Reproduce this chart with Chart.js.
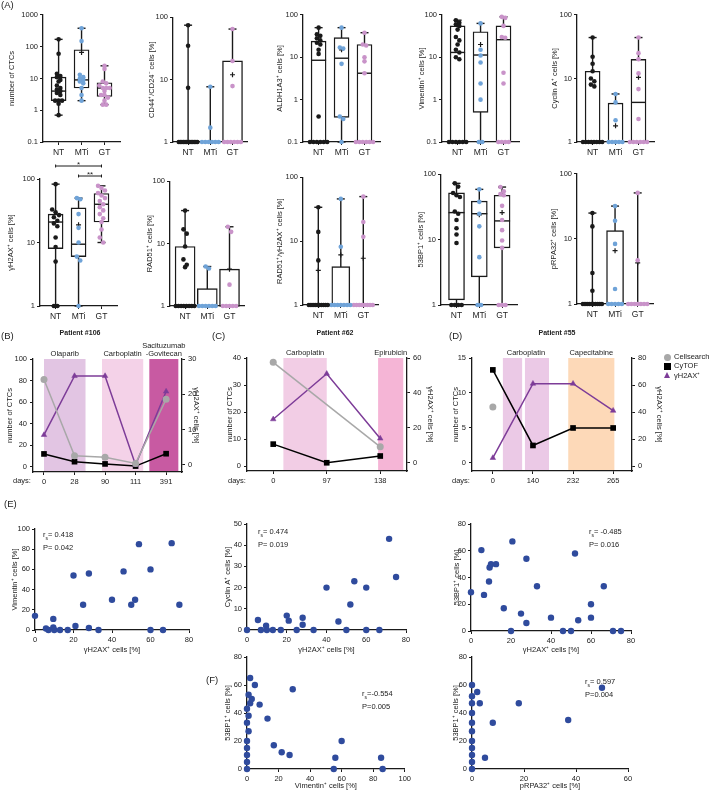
<!DOCTYPE html>
<html><head><meta charset="utf-8">
<script src="https://cdn.jsdelivr.net/npm/chart.js@4.4.1/dist/chart.umd.min.js"></script>
<style>
body{margin:0;background:#fff;width:709px;height:802px;position:relative;overflow:hidden;font-family:"Liberation Sans",Arial,sans-serif;color:#222;}
canvas{position:absolute;}
.t{position:absolute;white-space:nowrap;font-size:7.5px;line-height:10px;color:#222;}
.pl{font-size:9.5px;}
.pt{font-size:7px;font-weight:bold;transform:translateX(-50%);}
.sym{position:absolute;}
</style></head><body>
<script>
// ---------------- DATA ----------------
const groups = ['NT','MTi','GT'];
const logTicks3 = [1,10,100];
const logTicks4 = [0.1,1,10,100];
const logTicks5 = [0.1,1,10,100,1000];

// box stats per group: [min, q1, median, q3, max]
const ctcStats = [[0.7,2,4,11,170],[2,5,9,80,380],[1.5,2.7,5,7.3,25]];
const ctcPts = [[170,60,14,12,11,9,8,6,5,4.5,4,3.5,3,2,2,2,1.6,0.7],[380,150,13,11,10,9,8,7,5,3,2],[25,20,8,7,6,5,5,5,4,3,3,2.5,2,1.5,1.5]];
const ctcMean = [null,66,null];

const cd44Stats = [[1,1,1,1,75],[1,1,1,1,7.7],[1,1,1,20,65]];
const cd44Pts = [[75,35,7.4,1,1,1,1,1,1,1,1,1,1,1,1,1],[7.7,1.7,1,1,1,1,1,1],[65,20,7.9,1,1,1,1,1,1]];
const cd44Mean = [null,null,12];

const aldhStats = [[0.1,0.1,8.5,24,50],[0.1,0.38,9.5,29,50],[0.1,0.1,4.2,20,38]];
const aldhPts = [[50,35,32,28,25,22,20,15,12,0.4,0.1,0.1,0.1,0.1,0.1,0.1],[50,17,16,7,0.4,0.35,0.1],[38,20,19,10,8,4.2,0.1,0.1,0.1,0.1,0.1,0.1]];
const aldhMean = [null,15,null];

const vimStats = [[0.1,0.1,13,55,75],[0.1,0.5,11.3,40,63],[0.1,0.1,26,55,90]];
const vimPts = [[75,65,60,55,45,30,25,20,15,13,10,9,0.1,0.1,0.1,0.1,0.1,0.1],[63,15,11,7.5,2.4,1,0.1,0.1],[90,85,55,30,29,4.3,2.4,0.1,0.1,0.1,0.1]];
const vimMean = [null,20,null];

const cycStats = [[1,1,1,13,44],[1,1,1,4.1,5.7],[1,1,4.2,20,44]];
const cycPts = [[44,22,17,13,10,9,8,7.5,1,1,1,1,1,1,1,1],[5.7,4.2,2.2,1,1,1,1,1],[44,25,20,12,6.8,2.3,1,1,1,1,1,1]];
const cycMean = [null,1.8,10.4];

const h2axStats = [[1,8,21,28,83],[1,6,9.4,35,50],[10,21,40,59,78]];
const h2axPts = [[83,33,30,27,25,22,20,18,12,8.5,5,1,1],[50,48,28,17,10,6,5.2,1],[78,72,66,60,55,50,45,40,36,32,28,24,21,16,12,10]];
const h2axMean = [null,19,null];
const sigPairs = [[0,2,'*'],[1,2,'**']];

const radStats = [[1,1,1,9,34],[1,1,1,1.9,4.3],[1,1,1,3.9,18.7]];
const radPts = [[34,17,14.5,9,5.6,4.6,4.2,1,1,1,1,1,1,1,1],[4.3,4,1,1,1,1,1,1],[18.7,15.5,2.2,1,1,1,1,1]];
const radMean = [null,null,3.9];

const rhStats = [[1,1,1,1,34],[1,1,1,4,46],[1,1,1,1,50]];
const rhPts = [[34,14,5,1,1,1,1,1,1,1,1,1,1],[46,8.2,1,1,1,1,1,1,1],[50,20,11.7,1,1,1,1,1,1,1,1]];
const rhMean = [3.5,6.1,5.4];

const bpStats = [[1,1.2,26,52,73],[1,2.7,25,39,59],[1,7.5,19.4,48,64]];
const bpPts = [[73,65,52,48,45,27,25,20,15,12,8.9,1,1,1,1],[59,38,25,16,5.4,1,1],[64,55,50,48,33,20,14,9.7,7.5,1,1,1]];
const bpMean = [null,24,26];

const rpaStats = [[1,1,1,1,25],[1,1,1,13.4,32],[1,1,1,1,51]];
const rpaPts = [[25,15.6,3,1.6,1,1,1,1,1,1,1,1,1,1],[32,19,8.4,1.7,1,1,1,1,1],[51,4.7,1,1,1,1,1,1,1]];
const rpaMean = [null,6.6,4.3];

// patient time courses
const daysB = ['0','28','90','111','391'];
const cellsearchB = [81,10,8.7,3,62.6];
const cytofB = [11.8,4.6,2.5,0.5,12];
const h2axB = [8.5,25.2,25.2,0,20.8];
const drugsB = ['Olaparib','Carboplatin','Sacituzumab|-Govitecan'];

const daysC = ['0','97','138'];
const cellsearchC = [38.4,null,7.1];
const cytofC = [8.1,1.2,3.7];
const h2axC = [25,51,14];
const drugsC = ['Carboplatin','Epirubicin'];

const daysD = ['0','140','232','265'];
const cellsearchD = [8,null,null,null];
const cytofD = [13.3,2.5,5,5];
const h2axD = [6,61,61,41];
const drugsD = ['Carboplatin','','Capecitabine'];

const leftTicksB = [0,20,40,60,80,100], rightTicksB = [0,10,20,30];
const leftTicksC = [0,10,20,30,40], rightTicksC = [0,20,40,60];
const leftTicksD = [0,5,10,15], rightTicksD = [0,20,40,60,80];

// correlations
const e1x = [0,5.7,7,9.5,9.5,10,13,17,20,21,25,28,28,33,40,46,50,52,54,60,60,66.5,71,75];
const e1y = [14,1.5,0,11,2.5,0,0,0,54,4,25,56,2,0,30,58,25,30,85,60,0,0,86,25];
const e2x = [0,5.5,7,9.6,10,13,17,20,21,25,28,28,33.5,40,46,50,52,54,60,60,66.6,71.5,75];
const e2y = [0,4.7,0,2,0,0,0,6.8,4.4,0,5.8,2.5,0,20,4,0,12,23,20,0,0,43,25];
const e3x = [0,5.2,6.5,9,9.3,10,12.5,16.4,20,20.7,25,27.7,27.7,33,40,46,50,52,53.6,60,60,66.4,71,75];
const e3y = [29,60.5,27,37,47.5,50,50,17,0,67,13,54,6,33.5,10,0,0,58,8,20,10,33.5,0,0];
const f1x = [0,0,0,0,0,1,0,1,0,2,3,1,5,2,8,13,17,22,27,29,55,56,60,85,86];
const f1y = [0,5,10,15,20,27,33,38,43,47,50,53,60,65,46,36,17,12,10,57,0,8,20,8,0];
const f2x = [0,0,0,0,0,0,0,0,0,0,0,2,3,5,8,18,37,50];
const f2y = [0,5,10,15,20,27,33,40,47,52,60,55,47,8,33,47,35,58];
const xTicks80 = [0,20,40,60,80], xTicks100 = [0,20,40,60,80,100], xTicks60 = [0,20,40,60];
const yTicks100 = [0,20,40,60,80,100], yTicks50 = [0,10,20,30,40,50], yTicks80 = [0,20,40,60,80];

// ---------------- STYLE / HELPERS ----------------
Chart.defaults.font.family = "'Liberation Sans', Arial, sans-serif";
Chart.defaults.font.size = 7.5;
Chart.defaults.color = '#222';
const INK = '#1a1a1a';
const GCOL = ['#1a1a1a','#6fa3d8','#c993c9'];
const FS = 7.5, LH = FS*1.2;

function makeCanvas(area, m){
  const cv = document.createElement('canvas');
  const left = area[0]-m.l, top = area[1]-m.t;
  const right = area[2]+(m.r||0)+(m.pr||0), bottom = area[3]+m.b;
  cv.width = Math.round(right-left); cv.height = Math.round(bottom-top);
  cv.style.left = left+'px'; cv.style.top = top+'px';
  document.body.appendChild(cv);
  return cv;
}
function yAxis(o){
  return {
    type:o.type||'linear', position:o.position||'left', min:o.min, max:o.max,
    afterBuildTicks:s=>{s.ticks=o.ticks.map(v=>({value:v}));},
    afterFit:s=>{s.width=o.W;},
    ticks:{callback:v=>String(v), font:{size:FS}, padding:o.tpad||2, color:'#222', autoSkip:false, maxRotation:0},
    grid:{display:true, drawOnChartArea:false, drawTicks:true, tickLength:3, color:INK, lineWidth:1},
    border:{display:true, color:INK, width:1.3},
    title:{display:!!o.title, text:o.title, font:{size:FS}, color:'#222', padding:{top:Math.max(0,o.W-o.off-LH/2), bottom:0}}
  };
}
function xAxis(o){
  return {
    type:'linear', position:'bottom', min:o.min, max:o.max, offset:false,
    afterBuildTicks:s=>{s.ticks=o.ticks.map(v=>({value:v}));},
    afterFit:s=>{s.height=o.H;},
    ticks:{callback:o.label||(v=>String(v)), font:{size:o.fs||FS}, padding:o.tpad||2, color:'#222', autoSkip:false, maxRotation:0},
    grid:{display:true, drawOnChartArea:false, drawTicks:true, tickLength:3, color:INK, lineWidth:1, offset:false},
    border:{display:true, color:INK, width:1.3},
    title:{display:!!o.title, text:o.title, font:{size:FS}, color:'#222', padding:{top:0,bottom:1}}
  };
}
const baseOpts = {responsive:false, animation:false, devicePixelRatio:1, events:[],
  plugins:{legend:{display:false}, tooltip:{enabled:false}}};

function spread(vals, log){
  const keys = vals.map(v=>log?Math.log10(v):v);
  const used = vals.map(()=>false), off = vals.map(()=>0);
  for(let i=0;i<vals.length;i++){
    if(used[i]) continue;
    const cl=[i]; used[i]=true;
    for(let j=i+1;j<vals.length;j++) if(!used[j] && Math.abs(keys[j]-keys[i])<0.09){cl.push(j);used[j]=true;}
    const n=cl.length;
    if(n>1){const w=Math.min(0.15*(n-1)/2,0.42); cl.forEach((k,idx)=>{off[k]=-w+2*w*idx/(n-1);});}
  }
  return off;
}

// ---------------- BOX PLOTS ----------------
const BOXES = [
  {stats:ctcStats, pts:ctcPts, mean:ctcMean, min:0.1, max:1000, ticks:logTicks5, title:'number of CTCs', area:[43,14,127,142], off:31, bw:15},
  {stats:cd44Stats, pts:cd44Pts, mean:cd44Mean, min:1, max:100, ticks:logTicks3, title:'CD44\u207A/CD24\u207B cells [%]', area:[173,14,257,142], off:21, bw:20},
  {stats:aldhStats, pts:aldhPts, mean:aldhMean, min:0.1, max:100, ticks:logTicks4, title:'ALDH1A3\u207A cells [%]', area:[303,14,387,142], off:23, bw:15},
  {stats:vimStats, pts:vimPts, mean:vimMean, min:0.1, max:100, ticks:logTicks4, title:'Vimentin\u207A cells [%]', area:[442,14,526,142], off:20, bw:15},
  {stats:cycStats, pts:cycPts, mean:cycMean, min:1, max:100, ticks:logTicks3, title:'Cyclin A\u207A cells [%]', area:[577,14,661,142], off:22, bw:15},
  {stats:h2axStats, pts:h2axPts, mean:h2axMean, min:1, max:100, ticks:logTicks3, title:'\u03B3H2AX\u207A cells [%]', area:[40,179,124,306], off:29, bw:15, sig:sigPairs},
  {stats:radStats, pts:radPts, mean:radMean, min:1, max:100, ticks:logTicks3, title:'RAD51\u207A cells [%]', area:[170,178,254,306], off:20, bw:20},
  {stats:rhStats, pts:rhPts, mean:rhMean, min:1, max:100, ticks:logTicks3, title:'RAD51\u207A/\u03B3H2AX\u207A cells [%]', area:[303,175,387,305], off:23, bw:18},
  {stats:bpStats, pts:bpPts, mean:bpMean, min:1, max:100, ticks:logTicks3, title:'53BP1\u207A cells [%]', area:[441,173,525,305], off:20, bw:16},
  {stats:rpaStats, pts:rpaPts, mean:rpaMean, min:1, max:100, ticks:logTicks3, title:'pRPA32\u207A cells [%]', area:[577,172,661,304], off:23, bw:17}
];

const sigPlugin = {id:'sig', afterDraw(chart, args, opts){
  if(!opts || !opts.pairs) return;
  const {ctx, scales:{x}, chartArea} = chart;
  ctx.save(); ctx.strokeStyle=INK; ctx.lineWidth=1; ctx.fillStyle='#222';
  ctx.font = "8px 'Liberation Sans', Arial"; ctx.textAlign='center'; ctx.textBaseline='alphabetic';
  opts.pairs.forEach((p,i)=>{
    const y = chartArea.top - 13 + i*10;
    const x1 = x.getPixelForValue(p[0]+1), x2 = x.getPixelForValue(p[1]+1);
    ctx.beginPath(); ctx.moveTo(x1,y); ctx.lineTo(x2,y);
    ctx.moveTo(x1,y-1.5); ctx.lineTo(x1,y+1.5); ctx.moveTo(x2,y-1.5); ctx.lineTo(x2,y+1.5); ctx.stroke();
    ctx.fillText(p[2], (x1+x2)/2, y+1);
  });
  ctx.restore();
}};

BOXES.forEach(b=>{
  const W = Math.ceil(b.off + LH/2 + 1);
  const padTop = b.sig ? 24 : 8;
  const cv = makeCanvas(b.area, {l:W, t:padTop, b:18, pr:2});
  const ds = [];
  b.stats.forEach((s,g)=>{
    ds.push({type:'line', data:[{x:g+1,y:s[0]},{x:g+1,y:s[4]}], borderColor:INK, borderWidth:1.4,
      pointStyle:'line', pointRadius:4, pointBorderColor:INK, pointBorderWidth:1.4, order:3, clip:false});
  });
  ds.push({type:'bar', data:b.stats.map((s,g)=>({x:g+1, y:[s[1],s[3]]})), backgroundColor:'#fff',
    borderColor:INK, borderWidth:1.4, borderSkipped:false, barThickness:b.bw, grouped:false, order:2});
  ds.push({type:'line', showLine:false, data:b.stats.map((s,g)=>({x:g+1,y:s[2]})), pointStyle:'line',
    pointRadius:b.bw/2, pointBorderColor:INK, pointBorderWidth:1.4, order:1, clip:false});
  b.pts.forEach((arr,g)=>{
    const off = spread(arr, true);
    ds.push({type:'line', showLine:false, data:arr.map((v,i)=>({x:g+1+off[i], y:v})), pointRadius:2.3,
      pointBackgroundColor:GCOL[g], pointBorderWidth:0, order:0, clip:false});
  });
  const md = [];
  b.mean.forEach((v,g)=>{ if(v!==null) md.push({x:g+1,y:v}); });
  ds.push({type:'line', showLine:false, data:md, pointStyle:'cross', pointRadius:2.5,
    pointBorderColor:INK, pointBorderWidth:1.2, order:0, clip:false});
  const opts = JSON.parse(JSON.stringify(baseOpts));
  opts.layout = {padding:{top:padTop, right:2, left:0, bottom:0}};
  opts.plugins.sig = b.sig ? {pairs:b.sig} : {};
  opts.scales = {
    x: xAxis({min:0.32, max:3.68, ticks:[1,2,3], H:18, fs:8.5, tpad:3, label:v=>groups[Math.round(v)-1]}),
    y: yAxis({type:'logarithmic', min:b.min, max:b.max, ticks:b.ticks, title:b.title, W:W, off:b.off})
  };
  new Chart(cv, {type:'bar', data:{datasets:ds}, options:opts, plugins:[sigPlugin]});
});

// ---------------- TIME COURSES ----------------
const bandPlugin = {id:'bands', beforeDatasetsDraw(chart, args, opts){
  if(!opts || !opts.list) return;
  const {ctx, scales:{x}, chartArea} = chart;
  ctx.save();
  opts.list.forEach(bd=>{
    const x1 = x.getPixelForValue(bd.from), x2 = x.getPixelForValue(bd.to);
    ctx.fillStyle = bd.color;
    ctx.fillRect(x1, chartArea.top, x2-x1, chartArea.bottom-chartArea.top-1);
    if(bd.label){
      ctx.fillStyle='#222'; ctx.font="7.5px 'Liberation Sans', Arial"; ctx.textAlign='center'; ctx.textBaseline='alphabetic';
      const lines = bd.label.split('|');
      lines.forEach((ln,i)=>ctx.fillText(ln, (x1+x2)/2, chartArea.top - 3 - (lines.length-1-i)*8.5));
    }
  });
  ctx.restore();
}};

function timeCourse(o){
  const Wl = Math.ceil(o.offL + LH/2 + 1), Wr = Math.ceil(o.offR + LH/2 + 1);
  const cv = makeCanvas(o.area, {l:Wl, r:Wr, t:24, b:14});
  const pts = arr => arr.map((v,i)=>({x:i, y:v}));
  const ds = [
    {data:pts(o.cs), yAxisID:'y', borderColor:'#a8a8a8', borderWidth:1.5, pointStyle:'circle', pointRadius:3.5,
      pointBackgroundColor:'#a8a8a8', pointBorderWidth:0, spanGaps:true, clip:false},
    {data:pts(o.h2), yAxisID:'y2', borderColor:'#7d3c98', borderWidth:1.5, pointStyle:'triangle', pointRadius:3.2,
      pointBackgroundColor:'#7d3c98', pointBorderColor:'#7d3c98', pointBorderWidth:0.5, clip:false},
    {data:pts(o.cy), yAxisID:'y', borderColor:'#000', borderWidth:1.5, pointStyle:'rect', pointRadius:4,
      pointBackgroundColor:'#000', pointBorderWidth:0, clip:false}
  ];
  const opts = JSON.parse(JSON.stringify(baseOpts));
  opts.layout = {padding:{top:24, right:0, left:0, bottom:0}};
  opts.plugins.bands = {list:o.bands};
  opts.scales = {
    x: xAxis({min:o.xmin, max:o.xmax, ticks:o.days.map((d,i)=>i), H:14, tpad:2, label:v=>o.days[Math.round(v)]}),
    y: yAxis({min:o.yl[0], max:o.yl[1], ticks:o.lt, title:'number of CTCs', W:Wl, off:o.offL, tpad:3}),
    y2: yAxis({position:'right', min:o.yr[0], max:o.yr[1], ticks:o.rt, title:'\u03B3H2AX\u207A cells [%]', W:Wr, off:o.offR, tpad:3})
  };
  new Chart(cv, {type:'line', data:{datasets:ds}, options:opts, plugins:[bandPlugin]});
}
timeCourse({area:[33,359,182,472], offL:23, offR:14, days:daysB, cs:cellsearchB, cy:cytofB, h2:h2axB,
  xmin:-0.36, xmax:4.52, yl:[-5,100], yr:[-2,30], lt:leftTicksB, rt:rightTicksB,
  bands:[{from:0,to:1.36,color:'#e2c5e3',label:drugsB[0]},{from:1.9,to:3.25,color:'#f4d2e8',label:drugsB[1]},{from:3.45,to:4.4,color:'#c85aa2',label:drugsB[2]}]});
timeCourse({area:[247,358,407,471], offL:17, offR:23, days:daysC, cs:cellsearchC, cy:cytofC, h2:h2axC,
  xmin:-0.49, xmax:2.5, yl:[-1.85,40], yr:[-4.6,60], lt:leftTicksC, rt:rightTicksC,
  bands:[{from:0.19,to:1.0,color:'#f2cde5',label:drugsC[0]},{from:1.96,to:2.43,color:'#f5b5d6',label:drugsC[1]}]});
timeCourse({area:[472,358,632,471], offL:16, offR:27, days:daysD, cs:cellsearchD, cy:cytofD, h2:h2axD,
  xmin:-0.52, xmax:3.47, yl:[-1.15,15], yr:[-3.7,80], lt:leftTicksD, rt:rightTicksD,
  bands:[{from:0.25,to:0.73,color:'#ebc9e6',label:''},{from:0.8,to:1.4,color:'#ebc9e6',label:''},{from:1.88,to:3.03,color:'#fdd9b8',label:drugsD[2]},{from:0.25,to:1.4,color:'rgba(0,0,0,0)',label:drugsD[0]}]});

// ---------------- SCATTERS ----------------
function scatter(o){
  const W = Math.ceil(o.off + LH/2 + 1);
  const cv = makeCanvas(o.area, {l:W, t:8, b:o.H, pr:8});
  const opts = JSON.parse(JSON.stringify(baseOpts));
  opts.layout = {padding:{top:8, right:8, left:0, bottom:0}};
  opts.scales = {
    x: xAxis({min:o.xr[0], max:o.xr[1], ticks:o.xt, H:o.H, title:o.xtitle, tpad:2}),
    y: yAxis({min:o.yr[0], max:o.yr[1], ticks:o.yt, title:o.ytitle, W:W, off:o.off, tpad:2})
  };
  new Chart(cv, {type:'scatter', data:{datasets:[{data:o.xs.map((v,i)=>({x:v,y:o.ys[i]})), pointRadius:3.2,
    pointBackgroundColor:'#2f4b9d', pointBorderWidth:0, clip:false}]}, options:opts});
}
scatter({area:[35,529,189,630], off:20, H:25, xr:[0,80], yr:[0,100], xt:xTicks80, yt:yTicks100, xs:e1x, ys:e1y,
  xtitle:'\u03B3H2AX\u207A cells [%]', ytitle:'Vimentin\u207A cells [%]'});
scatter({area:[247,524,406,630], off:19, H:25, xr:[0,80], yr:[0,50], xt:xTicks80, yt:yTicks50, xs:e2x, ys:e2y,
  xtitle:'\u03B3H2AX\u207A cells [%]', ytitle:'Cyclin A\u207A cells [%]'});
scatter({area:[471,524,631,631], off:14, H:24, xr:[0,80], yr:[0,80], xt:xTicks80, yt:yTicks80, xs:e3x, ys:e3y,
  xtitle:'\u03B3H2AX\u207A cells [%]', ytitle:'53BP1\u207A cells [%]'});
scatter({area:[247,657,405,769], off:19, H:22, xr:[0,100], yr:[0,80], xt:xTicks100, yt:yTicks80, xs:f1x, ys:f1y,
  xtitle:'Vimentin\u207A cells [%]', ytitle:'53BP1\u207A cells [%]'});
scatter({area:[472,657,628,769], off:16, H:22, xr:[0,60], yr:[0,80], xt:xTicks60, yt:yTicks80, xs:f2x, ys:f2y,
  xtitle:'pRPA32\u207A cells [%]', ytitle:'53BP1\u207A cells [%]'});

// ---------------- TEXT ----------------
function txt(html, x, y, cls){ const d=document.createElement('div'); d.className='t '+(cls||''); d.innerHTML=html;
  d.style.left=x+'px'; d.style.top=y+'px'; document.body.appendChild(d); return d; }
txt('(A)', 1, 0, 'pl'); txt('(B)', 1, 331, 'pl'); txt('(C)', 212, 331, 'pl'); txt('(D)', 449, 331, 'pl');
txt('(E)', 4, 499, 'pl'); txt('(F)', 206, 675, 'pl');
txt('Patient #106', 80, 328, 'pt'); txt('Patient #62', 335, 328, 'pt'); txt('Patient #55', 557, 328, 'pt');
txt('days:', 13, 476); txt('days:', 228, 476); txt('days:', 452, 476);
txt('r<sub style="font-size:5px">s</sub>= 0.418<br>P= 0.042', 43, 530);
txt('r<sub style="font-size:5px">s</sub>= 0.474<br>P= 0.019', 258, 527);
txt('r<sub style="font-size:5px">s</sub>= -0.485<br>P= 0.016', 589, 527);
txt('r<sub style="font-size:5px">s</sub>=-0.554<br>P=0.005', 362, 689);
txt('r<sub style="font-size:5px">s</sub>= 0.597<br>P=0.004', 585, 677);
// legend (D)
function sym(css){ const d=document.createElement('div'); d.className='sym'; d.style.cssText+=css; document.body.appendChild(d); }
sym('left:664px;top:354px;width:7px;height:7px;border-radius:50%;background:#a8a8a8;');
sym('left:664px;top:363px;width:7px;height:7px;background:#000;');
sym('left:664px;top:372px;width:0;height:0;border-left:3.5px solid transparent;border-right:3.5px solid transparent;border-bottom:6px solid #7d3c98;');
txt('Cellsearch', 674, 352); txt('CyTOF', 674, 361); txt('\u03B3H2AX\u207A', 674, 371);
</script>
</body></html>
